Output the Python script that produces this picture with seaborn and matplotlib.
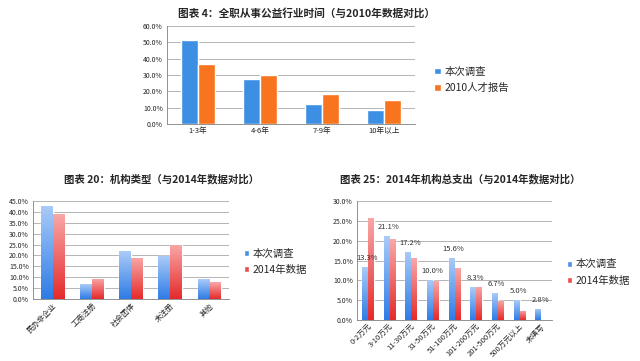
import numpy as np
import pandas as pd
import matplotlib
matplotlib.use("Agg")
import matplotlib.pyplot as plt
import seaborn as sns
from matplotlib.colors import LinearSegmentedColormap
from matplotlib.ticker import FuncFormatter, MultipleLocator

sns.set_style("white")
plt.rcParams['font.family'] = ['Noto Sans CJK SC', 'DejaVu Sans']

# 图表4 数据
years_cat = ['1-3年', '4-6年', '7-9年', '10年以上']
years_now = [51.3, 27.7, 12.3, 8.3]
years_2010 = [36.7, 30.0, 18.6, 14.7]

# 图表20 数据
org_cat = ['民办非企业', '工商注册', '社会团体', '未注册', '其他']
org_now = [42.8, 6.7, 22.0, 19.6, 9.1]
org_2014 = [39.0, 9.3, 19.0, 24.9, 7.7]

# 图表25 数据
exp_cat = ['0-2万元', '3-10万元', '11-30万元', '31-50万元', '51-100万元',
           '101-200万元', '201-500万元', '500万元以上', '未填写']
exp_now = [13.3, 21.1, 17.2, 10.0, 15.6, 8.3, 6.7, 5.0, 2.8]
exp_2014 = [25.8, 20.3, 15.6, 9.8, 13.0, 8.4, 4.9, 2.3, 0.0]

pct = FuncFormatter(lambda v, p: f"{v:.1f}%")


def make_df(cats, a, b, na, nb):
    return pd.DataFrame({'cat': cats * 2, 'val': a + b,
                         'series': [na] * len(cats) + [nb] * len(cats)})


def style_ax(ax, ymax, step):
    ax.set_ylim(0, ymax)
    ax.yaxis.set_major_locator(MultipleLocator(step))
    ax.yaxis.set_major_formatter(pct)
    ax.grid(axis='y', color='#a8a8a8', linewidth=0.6)
    ax.set_axisbelow(True)
    for s in ['top', 'right']:
        ax.spines[s].set_visible(False)
    for s in ['left', 'bottom']:
        ax.spines[s].set_color('#808080')
        ax.spines[s].set_linewidth(0.6)
    ax.set_xlabel('')
    ax.set_ylabel('')
    ax.tick_params(axis='y', labelsize=5, length=2, pad=1)
    ax.tick_params(axis='x', labelsize=5.5, length=0, pad=2)


def gradient_bars(ax, cols):
    # 每个系列一个渐变色 (上浅下深)
    ncat = 0
    for cont, (top, bot) in zip(ax.containers, cols):
        cmap = LinearSegmentedColormap.from_list('g', [bot, top])
        ncat = len(cont.patches)
        for p in cont.patches:
            h = p.get_height()
            if not h or h <= 0:
                continue
            x0, y0, w = p.get_x(), p.get_y(), p.get_width()
            grad = np.linspace(0, 1, 64).reshape(-1, 1)
            im = ax.imshow(grad, cmap=cmap, origin='lower', aspect='auto',
                           extent=[x0, x0 + w, y0, y0 + h], zorder=2)
            im.set_clip_path(p)
            p.set_facecolor('none')
    ax.set_xlim(-0.5, ncat - 0.5)


fig = plt.figure(figsize=(6.4, 3.61), dpi=100)
fig.patch.set_facecolor('white')

# ---- 图表4 ----
ax1 = fig.add_axes([167 / 640, 1 - 124 / 361, 248 / 640, 98 / 361])
d1 = make_df(years_cat, years_now, years_2010, '本次调查', '2010人才报告')
sns.barplot(data=d1, x='cat', y='val', hue='series', ax=ax1,
            palette=['#3d8fe3', '#f8741f'], width=0.55, saturation=1)
style_ax(ax1, 60, 10)
ax1.legend(loc='center left', bbox_to_anchor=(1.04, 0.45), frameon=False,
           fontsize=7.5, handlelength=0.6, handleheight=0.6, handletextpad=0.4,
           labelspacing=0.6)
fig.text(306 / 640, 1 - 13 / 361, '图表 4：全职从事公益行业时间（与2010年数据对比）',
         ha='center', va='center', fontsize=7.7, fontweight='bold')

# ---- 图表20 ----
ax2 = fig.add_axes([33 / 640, 1 - 299 / 361, 196 / 640, 98 / 361])
d2 = make_df(org_cat, org_now, org_2014, '本次调查', '2014年数据')
sns.barplot(data=d2, x='cat', y='val', hue='series', ax=ax2,
            palette=['#4d8fe8', '#ee4b4b'], width=0.6, saturation=1)
style_ax(ax2, 45, 5)
gradient_bars(ax2, [('#a9cbf8', '#2f7ce6'), ('#f9a7a7', '#e52b2b')])
plt.setp(ax2.get_xticklabels(), rotation=45, ha='right', rotation_mode='anchor')
ax2.legend(loc='center left', bbox_to_anchor=(1.03, 0.38), frameon=False,
           fontsize=7.5, handlelength=0.5, handleheight=0.5, handletextpad=0.3,
           labelspacing=0.6)
fig.text(161 / 640, 1 - 179 / 361, '图表 20：机构类型（与2014年数据对比）',
         ha='center', va='center', fontsize=7.5, fontweight='bold')

# ---- 图表25 ----
ax3 = fig.add_axes([357 / 640, 1 - 320 / 361, 195 / 640, 119 / 361])
d3 = make_df(exp_cat, exp_now, exp_2014, '本次调查', '2014年数据')
sns.barplot(data=d3, x='cat', y='val', hue='series', ax=ax3,
            palette=['#4d8fe8', '#ee4b4b'], width=0.55, saturation=1)
style_ax(ax3, 30, 5)
gradient_bars(ax3, [('#a9cbf8', '#2f7ce6'), ('#f9a7a7', '#e52b2b')])
plt.setp(ax3.get_xticklabels(), rotation=45, ha='right', rotation_mode='anchor')
for i, v in enumerate(exp_now):
    ax3.text(i - 0.05, v + 1.3, f"{v:.1f}%", ha='center', va='bottom',
             fontsize=5.5, color='#333333')
ax3.legend(loc='center left', bbox_to_anchor=(1.03, 0.4), frameon=False,
           fontsize=7.5, handlelength=0.5, handleheight=0.5, handletextpad=0.3,
           labelspacing=0.6)
fig.text(460 / 640, 1 - 179 / 361, '图表 25：2014年机构总支出（与2014年数据对比）',
         ha='center', va='center', fontsize=7.5, fontweight='bold')

fig.savefig('out.png', dpi=100)
